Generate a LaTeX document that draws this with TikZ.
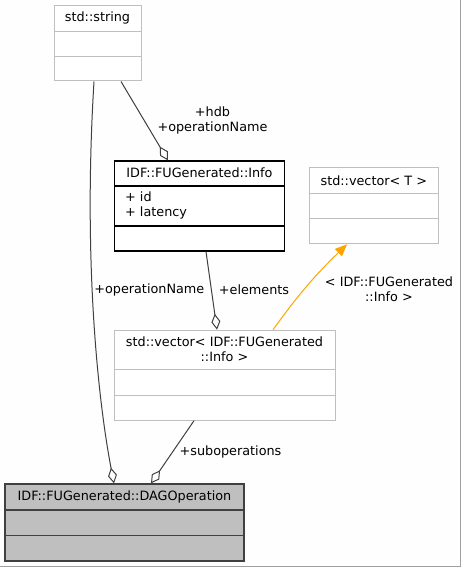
\documentclass[tikz,border=0pt]{standalone}
\usepackage{fontspec}
\newfontfamily\dxfont{DejaVu Sans}
\usetikzlibrary{arrows.meta}
\definecolor{pagebg}{HTML}{FDFEFD}
\definecolor{boxgray}{HTML}{BFBFBF}
\definecolor{edgegray}{HTML}{404040}
\definecolor{framegray}{HTML}{A0A0A0}
\definecolor{realorange}{HTML}{FFA500}
\tikzset{
  classbox/.style={draw=boxgray, line width=1pt, fill=white, inner sep=0pt},
  infobox/.style={draw=black, line width=1.2pt, fill=white, inner sep=0pt},
  dagbox/.style={draw=edgegray, line width=1.6pt, fill=boxgray, inner sep=0pt},
  txt/.style={font=\dxfont\fontsize{12.8}{15}\selectfont, align=center, inner sep=0pt},
  member/.style={-, draw=edgegray, line width=1pt, {Diamond[open, length=16pt, width=9pt, line width=1pt]}-},
  realize/.style={draw=realorange, line width=1pt, -{Triangle[length=12pt, width=10pt]}, realorange}
}
\begin{document}
\begin{tikzpicture}[x=1pt, y=-1pt]
            \fill[pagebg] (0, 0) rectangle (461, 567);
            \useasboundingbox (0, 0) rectangle (461, 567);
            \draw[framegray, line width=1pt] (460.5, 0) -- (460.5, 566.5) -- (0, 566.5);
            \node[classbox, minimum width=87pt, minimum height=75pt] (string) at (97.5, 43.5) {};
            \draw[boxgray, line width=1pt] (string.west |- 0, 31.5) -- (string.east |- 0, 31.5);
            \draw[boxgray, line width=1pt] (string.west |- 0, 56.5) -- (string.east |- 0, 56.5);
            \node[txt] (stringtitle) at (97.5, 18) {std::string};
            \node[infobox, minimum width=170pt, minimum height=90pt] (info) at (199.5, 206) {};
            \draw[black, line width=1.2pt] (info.west |- 0, 186) -- (info.east |- 0, 186);
            \draw[black, line width=1.2pt] (info.west |- 0, 226) -- (info.east |- 0, 226);
            \node[txt] (infotitle) at (199.5, 173) {IDF::FUGenerated::Info};
            \node[txt, anchor=west, align=left] (infoattr) at (125, 205) {+ id\\+ latency};
            \node[classbox, minimum width=129pt, minimum height=76pt] (vect) at (373.8, 205.8) {};
            \draw[boxgray, line width=1pt] (vect.west |- 0, 193) -- (vect.east |- 0, 193);
            \draw[boxgray, line width=1pt] (vect.west |- 0, 218.5) -- (vect.east |- 0, 218.5);
            \node[txt] (vecttitle) at (373.8, 180.5) {std::vector< T >};
            \node[classbox, minimum width=221pt, minimum height=90pt] (vecinfo) at (224.5, 375.2) {};
            \draw[boxgray, line width=1pt] (vecinfo.west |- 0, 369.8) -- (vecinfo.east |- 0, 369.8);
            \draw[boxgray, line width=1pt] (vecinfo.west |- 0, 395.3) -- (vecinfo.east |- 0, 395.3);
            \node[txt] (vecinfotitle) at (224.5, 349.5) {std::vector< IDF::FUGenerated\\::Info >};
            \node[dagbox, minimum width=239pt, minimum height=76.5pt] (dag) at (124.5, 522.5) {};
            \draw[edgegray, line width=1.6pt] (dag.west |- 0, 509.8) -- (dag.east |- 0, 509.8);
            \draw[edgegray, line width=1.6pt] (dag.west |- 0, 535.3) -- (dag.east |- 0, 535.3);
            \node[txt] (dagtitle) at (124.5, 497.3) {IDF::FUGenerated::DAGOperation};
            \draw[member] (info.north -| 168, 0) -- (string.south -| 121, 0);
            \node[txt] (hdblabel) at (212.5, 120.5) {+hdb\\+operationName};
            \draw[member] (dag.north -| 114, 0) .. controls (98, 400) and (83, 260) .. (string.south -| 94, 0);
            \node[txt] (oplabel) at (149.3, 290) {+operationName};
            \draw[member] (vecinfo.north -| 217, 0) -- (info.south -| 206, 0);
            \node[txt] (elemlabel) at (254, 290) {+elements};
            \draw[member] (dag.north -| 151, 0) -- (vecinfo.south -| 194, 0);
            \node[txt] (sublabel) at (230.5, 452) {+suboperations};
            \draw[realize] (vecinfo.north -| 273, 0) to[bend left=5] (vect.south -| 347, 0);
            \node[txt] (tmpllabel) at (389, 289.5) {< IDF::FUGenerated\\::Info >};
        \end{tikzpicture}
\end{document}
